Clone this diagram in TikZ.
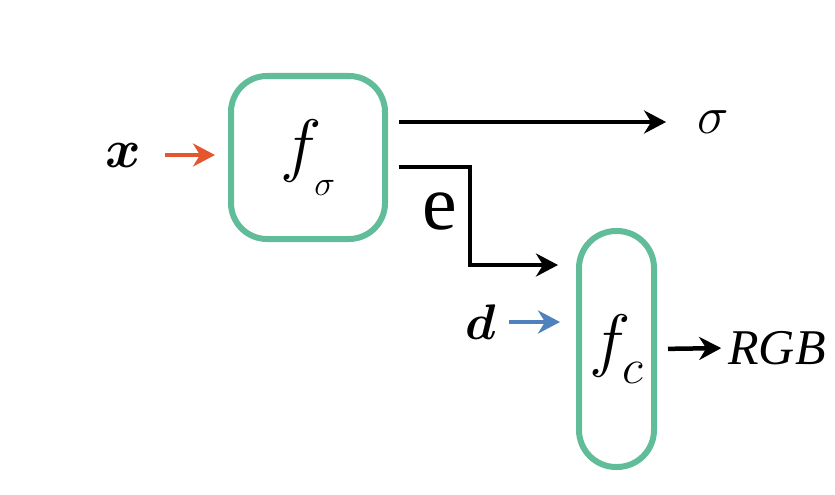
\RequirePackage{fix-cm}
\documentclass[tikz,border=0pt]{standalone}
\usepackage{fontspec}
\usepackage{bm}
\usetikzlibrary{arrows.meta}
\newfontfamily\timesfont{Liberation Serif}
\definecolor{netgreen}{HTML}{61BD99}
\definecolor{inred}{HTML}{E4572E}
\definecolor{inblue}{HTML}{4F81BD}
\tikzset{
	net/.style={draw=netgreen,line width=6pt,fill=white},
	flow/.style={line width=4.5pt,-{Stealth[length=22pt,width=23pt,inset=7pt]}},
	lab/.style={inner sep=0pt},
}

\begin{document}
\begin{tikzpicture}[x=1pt,y=-1pt]
\useasboundingbox (0,0) rectangle (835,495);

%networks
\node[net,rounded corners=36pt,minimum width=154pt,minimum height=163pt] (fsig) at (308,157.5)
	{\fontsize{70}{70}\selectfont$f_{\lower16pt\hbox{$\scriptscriptstyle\sigma$}}$};
\node[net,rounded corners=37pt,minimum width=75pt,minimum height=236pt] (fc) at (616.5,349)
	{\fontsize{70}{70}\selectfont$f_{\lower10pt\hbox{$\scriptstyle c$}}$};

%inputs and outputs
\node[lab] (x) at (123,155) {\fontsize{54}{54}\selectfont$\bm{x}$};
\node[lab] (d) at (481,322) {\fontsize{50}{50}\selectfont$\bm{d}$};
\node[lab] (sigma) at (713,122) {\fontsize{53}{53}\selectfont$\sigma$};
\node[lab] (rgb) at (777,348) {\timesfont\itshape\fontsize{50}{50}\selectfont RGB};
\node[lab] (e) at (440,212) {\timesfont\fontsize{78}{78}\selectfont e};
\coordinate (eout) at (399,167);

%connectors
\draw[flow,inred,shorten <=24pt,shorten >=13pt] (x.east) -- (fsig.west |- x);
\draw[flow,shorten <=11pt,shorten >=31pt] (fsig.east |- sigma) -- (sigma.west);
\draw[flow,shorten >=18pt] (eout) -- ++(71,0) |- ([yshift=84pt]fc.west);
\draw[flow,inblue,shorten <=13pt,shorten >=16pt] (d.east) -- (fc.west |- d);
\draw[flow,shorten <=11pt,shorten >=7pt] (fc.east) -- (rgb.west);
\end{tikzpicture}
\end{document}
